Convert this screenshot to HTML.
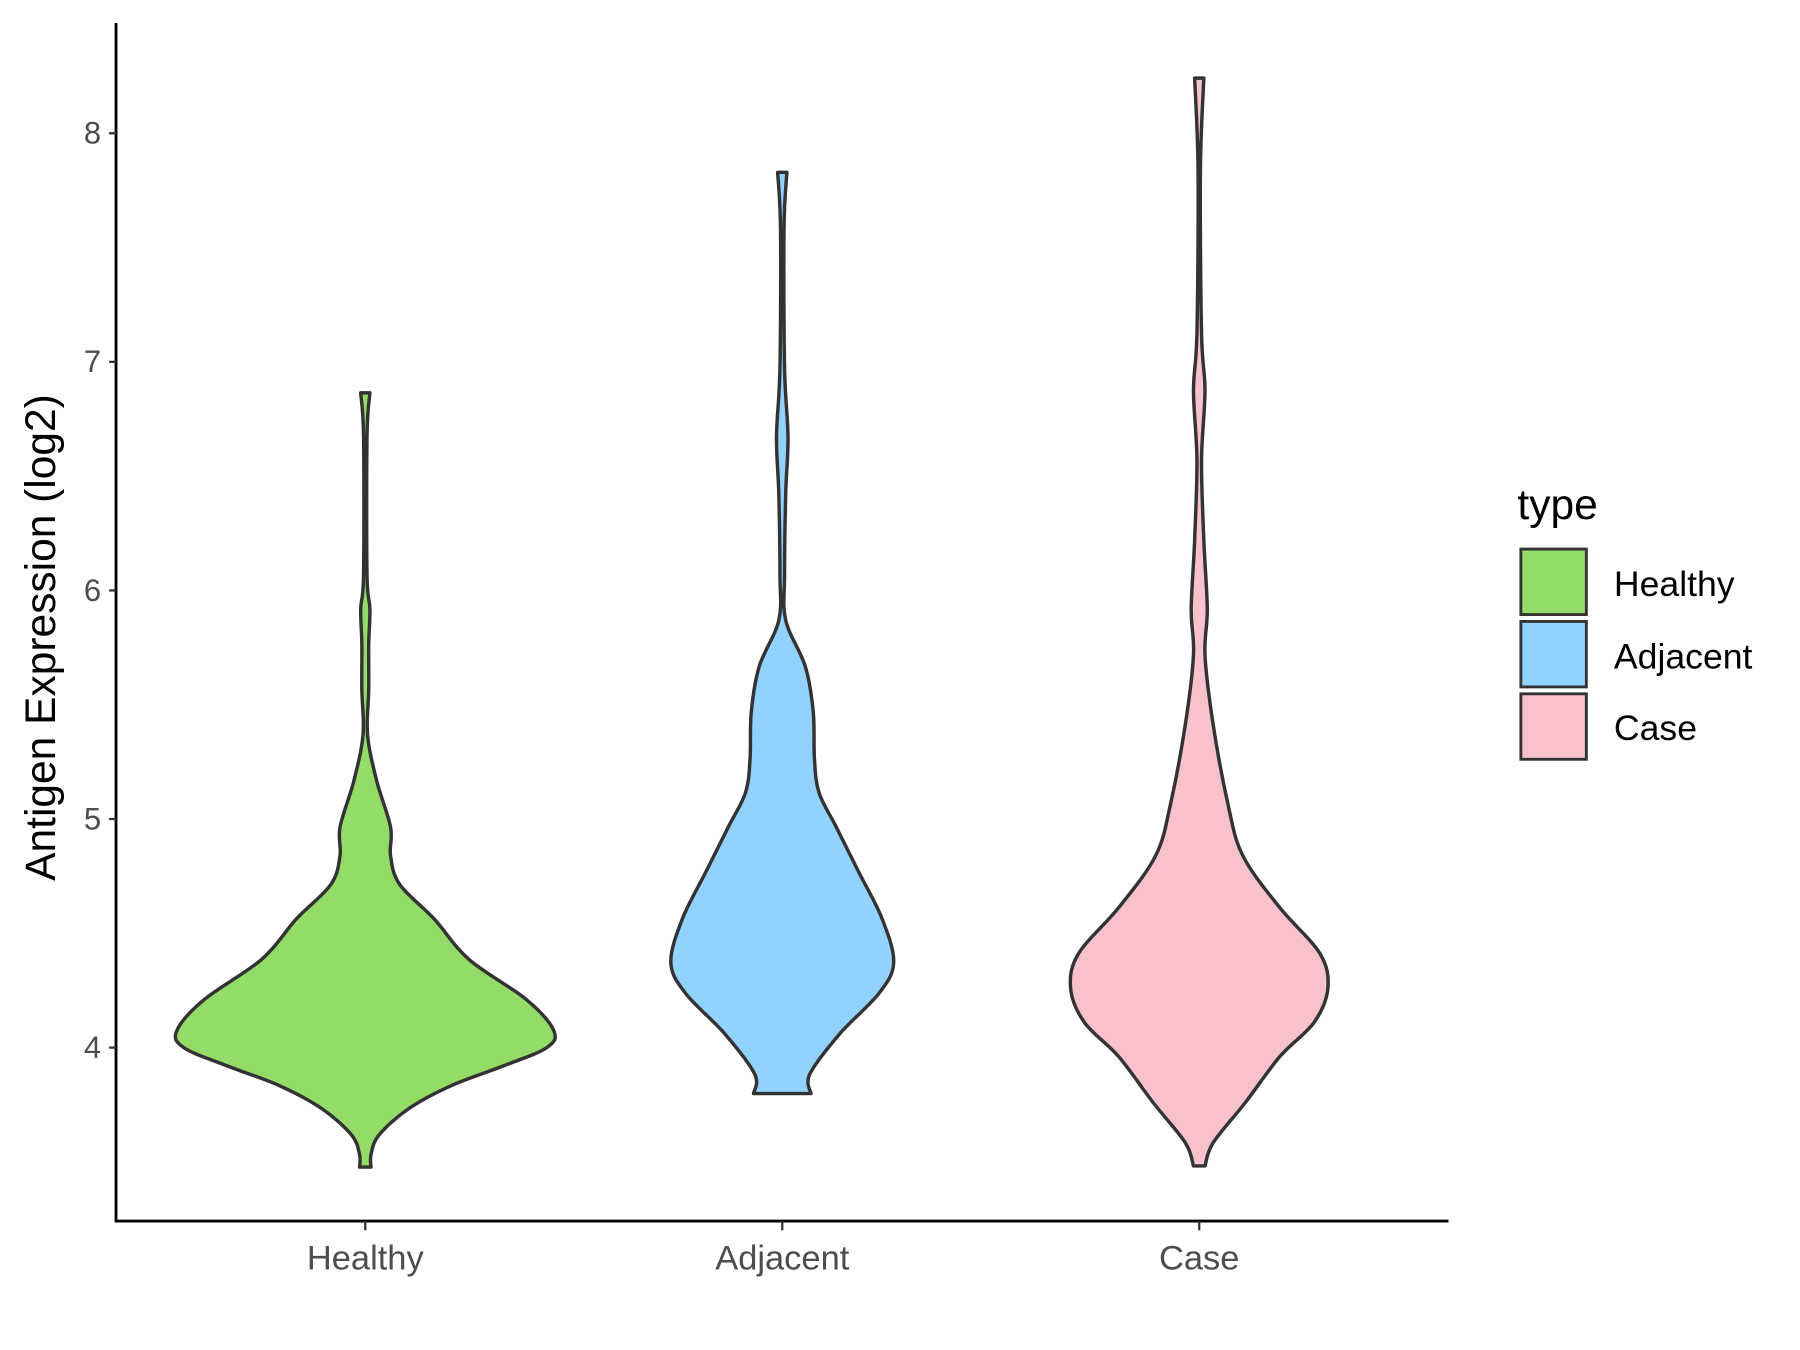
<!DOCTYPE html>
<html><head><style>body{margin:0;background:#fff}svg{display:block}</style></head><body>
<svg id="s" width="1800" height="1350" viewBox="0 0 1567 1175.25" preserveAspectRatio="none" xmlns="http://www.w3.org/2000/svg" font-family="Liberation Sans, sans-serif">
<rect width="1567" height="1175.25" fill="#fff"/>
<g id="v"></g>
<line x1="101" y1="20" x2="101" y2="1064" stroke="#000" stroke-width="2.5"/>
<line x1="100" y1="1063" x2="1261" y2="1063" stroke="#000" stroke-width="2.5"/>
<g stroke="#333" stroke-width="2">
<line x1="95" x2="101" y1="116" y2="116"/><line x1="95" x2="101" y1="315" y2="315"/><line x1="95" x2="101" y1="514" y2="514"/><line x1="95" x2="101" y1="713" y2="713"/><line x1="95" x2="101" y1="912" y2="912"/>
<line x1="318" x2="318" y1="1063" y2="1071"/><line x1="681" x2="681" y1="1063" y2="1071"/><line x1="1044" x2="1044" y1="1063" y2="1071"/>
</g>
<g fill="#4d4d4d" font-size="27" text-anchor="end">
<text x="88" y="125">8</text><text x="88" y="324">7</text><text x="88" y="523">6</text><text x="88" y="722">5</text><text x="88" y="921">4</text>
</g>
<g fill="#4d4d4d" font-size="30" text-anchor="middle">
<text x="318" y="1105">Healthy</text><text x="681" y="1105">Adjacent</text><text x="1044" y="1105">Case</text>
</g>
<text transform="translate(48,555) rotate(-90)" font-size="37" text-anchor="middle" fill="#000">Antigen Expression (log2)</text>
<text x="1321" y="452" font-size="37" fill="#000">type</text>
<g stroke="#333" stroke-width="2.5">
<rect x="1324" y="478" width="57" height="57" fill="#93DC68"/>
<rect x="1324" y="541" width="57" height="57" fill="#92D2FF"/>
<rect x="1324" y="604" width="57" height="57" fill="#F8C1CC"/>
</g>
<g font-size="31" fill="#000">
<text x="1405" y="519">Healthy</text><text x="1405" y="582">Adjacent</text><text x="1405" y="644">Case</text>
</g>
</svg>
<script>
function path(cx,pts,fill){
  var R=pts.map(p=>[cx+p[1],p[0]]), L=pts.slice().reverse().map(p=>[cx-p[1],p[0]]);
  function cr(a){var d="";for(var i=0;i<a.length-1;i++){var p0=a[Math.max(i-1,0)],p1=a[i],p2=a[i+1],p3=a[Math.min(i+2,a.length-1)];
    var c1=[p1[0]+(p2[0]-p0[0])/6,p1[1]+(p2[1]-p0[1])/6],c2=[p2[0]-(p3[0]-p1[0])/6,p2[1]-(p3[1]-p1[1])/6];
    d+=" C"+c1[0].toFixed(1)+","+c1[1].toFixed(1)+" "+c2[0].toFixed(1)+","+c2[1].toFixed(1)+" "+p2[0].toFixed(1)+","+p2[1].toFixed(1);}return d;}
  var d="M"+L[L.length-1][0]+","+L[L.length-1][1]+" L"+R[0][0]+","+R[0][1]+cr(R)+" L"+L[0][0]+","+L[0][1]+cr(L)+" Z";
  var p=document.createElementNS("http://www.w3.org/2000/svg","path");
  p.setAttribute("d",d);p.setAttribute("fill",fill);p.setAttribute("stroke","#333");p.setAttribute("stroke-width","3");p.setAttribute("stroke-linejoin","round");
  document.getElementById("v").appendChild(p);
}
path(318,[[342,4],[380,1.5],[500,1.5],[530,4],[560,3],[600,3],[640,2],[680,10],[720,22],[745,22],[770,30],[800,60],[835,90],[870,140],[897,164],[912,158],[928,120],[945,75],[965,38],[988,12],[1005,5],[1016,5]],"#93DC68");
path(681,[[150,4],[200,1.5],[320,2],[380,5],[430,3],[500,2],[540,3],[580,20],[620,27],[660,28],[690,32],[720,47],[760,67],[800,87],[838,97],[865,84],[900,50],[935,24],[952,25]],"#92D2FF");
path(1044,[[68,4],[150,1],[290,2],[340,5],[400,2],[470,4],[530,7],[570,5],[630,12],[700,25],[745,38],[790,70],[830,105],[860,112],[890,100],[920,70],[960,40],[995,12],[1015,5]],"#F8C1CC");
</script>
</body></html>
